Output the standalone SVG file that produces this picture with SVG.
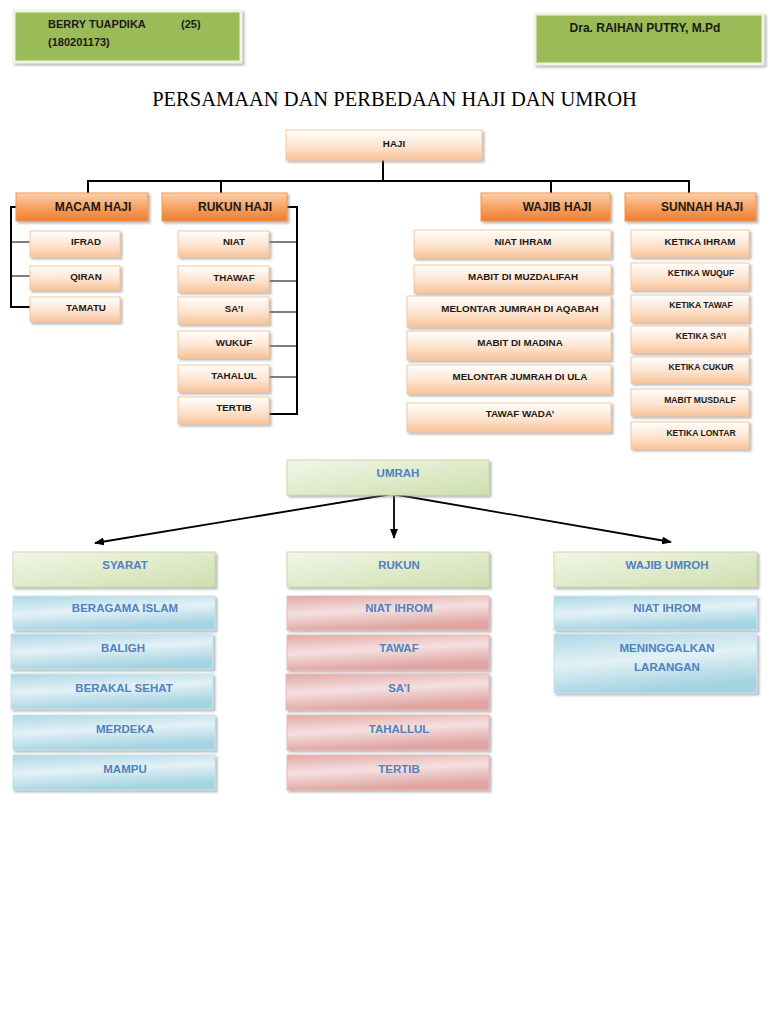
<svg xmlns="http://www.w3.org/2000/svg" width="768" height="1024" viewBox="0 0 768 1024">
<defs>
<style>
text{font-family:"Liberation Sans",Arial,sans-serif;font-weight:bold;text-anchor:middle;}
.hd{font-size:11px;fill:#1a1a1a;text-anchor:start;}
.hd2{font-size:12px;fill:#1a1a1a;}
.title{font-family:"Liberation Serif","Times New Roman",serif;font-weight:normal;font-size:20.5px;fill:#000;}
.l1{font-size:12px;fill:#1a1a1a;}
.t{font-size:9.8px;fill:#1a1a1a;}
.ts{font-size:8.6px;fill:#1a1a1a;}
.u{font-size:11.5px;fill:#4F81BD;}
.hdr{fill:#9BBB59;stroke:#EEF3E2;stroke-width:3;filter:url(#sh);}
.or{fill:url(#gOr);stroke:#F79646;stroke-width:1;filter:url(#sh);}
.pc{fill:url(#gPc);stroke:#F9C69C;stroke-width:1;filter:url(#sh);}
.gr{fill:url(#gGr);stroke:#C9DAA6;stroke-width:1;filter:url(#sh);}
.bl{fill:url(#gBl);stroke:#C6E4EE;stroke-width:1;filter:url(#sh);}
.rd{fill:url(#gRd);stroke:#E6B9B8;stroke-width:1;filter:url(#sh);}
.ln{fill:none;stroke:#000;stroke-width:2;}
.lt{fill:none;stroke:#000;stroke-width:1.2;}
.ar{fill:none;stroke:#000;stroke-width:1.8;marker-end:url(#ah);}
</style>
<filter id="sh" x="-10%" y="-20%" width="130%" height="160%">
<feDropShadow dx="2" dy="2" stdDeviation="0.8" flood-color="#7f7f7f" flood-opacity="0.55"/>
</filter>
<linearGradient id="gOr" x1="0" y1="0" x2="0" y2="1">
<stop offset="0" stop-color="#FCD3AE"/><stop offset="0.5" stop-color="#F8A263"/><stop offset="1" stop-color="#EC7E32"/>
</linearGradient>
<linearGradient id="gPc" x1="0" y1="0" x2="0" y2="1">
<stop offset="0" stop-color="#FFFFFF"/><stop offset="0.55" stop-color="#FDE4CF"/><stop offset="1" stop-color="#F8C399"/>
</linearGradient>
<linearGradient id="gGr" x1="0" y1="0" x2="1" y2="1">
<stop offset="0" stop-color="#F1F6E8"/><stop offset="1" stop-color="#CEDFAE"/>
</linearGradient>
<linearGradient id="gBl" x1="0" y1="0" x2="0.3" y2="1">
<stop offset="0" stop-color="#ADD8E5"/><stop offset="0.5" stop-color="#E3F1F6"/><stop offset="1" stop-color="#A4D3E1"/>
</linearGradient>
<linearGradient id="gRd" x1="0" y1="0" x2="0.3" y2="1">
<stop offset="0" stop-color="#E3A9A7"/><stop offset="0.5" stop-color="#F4E0DF"/><stop offset="1" stop-color="#DFA3A1"/>
</linearGradient>
<marker id="ah" viewBox="0 0 10 8" refX="9" refY="4" markerUnits="userSpaceOnUse" markerWidth="10" markerHeight="8" orient="auto">
<path d="M0 0 L10 4 L0 8 Z" fill="#000"/>
</marker>
</defs>
<rect width="768" height="1024" fill="#fff"/>

<g id="header-left"><rect class="hdr" x="14" y="11" width="227" height="51"/>
<text class="hd" x="48" y="28">BERRY TUAPDIKA</text><text class="hd" x="181" y="28">(25)</text><text class="hd" x="48" y="46">(180201173)</text></g>
<g id="header-right"><rect class="hdr" x="535" y="14" width="228" height="50"/>
<text class="hd2" x="645" y="32">Dra. RAIHAN PUTRY, M.Pd</text></g>

<text class="title" x="394.5" y="106">PERSAMAAN DAN PERBEDAAN HAJI DAN UMROH</text>

<g id="connectors">
<path class="ln" d="M383 160 V181 M87 181 H690 M88 181 V193 M221 181 V193 M551 181 V193 M689 181 V193"/>
<path class="ln" d="M16 207 H11 V307 H30"/>
<path class="lt" d="M11 242 H30 M11 276 H30"/>
<path class="ln" d="M287 207 H297 V414 H269"/>
<path class="lt" d="M269 242 H297 M269 281 H297 M269 312 H297 M269 346 H297 M269 377 H297"/>
<path class="ar" d="M392 494 L95 543"/>
<path class="ar" d="M394 494 V538"/>
<path class="ar" d="M392 494 L671 542"/>
</g>

<g id="haji"><rect class="pc" x="286" y="130" width="196" height="30"/><text class="t" x="394" y="147">HAJI</text></g>

<g id="macam-haji"><rect class="or" x="16" y="193" width="132" height="28"/><text class="l1" x="93" y="211">MACAM HAJI</text></g>
<g id="rukun-haji"><rect class="or" x="162" y="193" width="125" height="28"/><text class="l1" x="235" y="211">RUKUN HAJI</text></g>
<g id="wajib-haji"><rect class="or" x="481" y="193" width="129" height="28"/><text class="l1" x="557" y="211">WAJIB HAJI</text></g>
<g id="sunnah-haji"><rect class="or" x="625" y="193" width="131" height="28"/><text class="l1" x="702" y="211">SUNNAH HAJI</text></g>

<g id="ifrad"><rect class="pc" x="30" y="231" width="90" height="26"/><text class="t" x="86" y="245">IFRAD</text></g>
<g id="qiran"><rect class="pc" x="30" y="266" width="90" height="24"/><text class="t" x="86" y="280">QIRAN</text></g>
<g id="tamatu"><rect class="pc" x="30" y="297" width="90" height="25"/><text class="t" x="86" y="311">TAMATU</text></g>

<g id="niat"><rect class="pc" x="178" y="231" width="91" height="26"/><text class="t" x="234" y="245">NIAT</text></g>
<g id="thawaf"><rect class="pc" x="178" y="266" width="91" height="26"/><text class="t" x="234" y="281">THAWAF</text></g>
<g id="sai"><rect class="pc" x="178" y="297" width="91" height="27"/><text class="t" x="234" y="312">SA’I</text></g>
<g id="wukuf"><rect class="pc" x="178" y="331" width="91" height="27"/><text class="t" x="234" y="346">WUKUF</text></g>
<g id="tahalul"><rect class="pc" x="178" y="365" width="91" height="27"/><text class="t" x="234" y="379">TAHALUL</text></g>
<g id="tertib"><rect class="pc" x="178" y="397" width="91" height="27"/><text class="t" x="234" y="411">TERTIB</text></g>

<g id="niat-ihram"><rect class="pc" x="414" y="230" width="197" height="28"/><text class="t" x="523" y="245">NIAT IHRAM</text></g>
<g id="mabit-muzdalifah"><rect class="pc" x="414" y="265" width="197" height="28"/><text class="t" x="523" y="280">MABIT DI MUZDALIFAH</text></g>
<g id="melontar-aqabah"><rect class="pc" x="407" y="296" width="204" height="31"/><text class="t" x="520" y="312">MELONTAR JUMRAH DI AQABAH</text></g>
<g id="mabit-madina"><rect class="pc" x="407" y="331" width="204" height="29"/><text class="t" x="520" y="346">MABIT DI MADINA</text></g>
<g id="melontar-ula"><rect class="pc" x="407" y="365" width="204" height="29"/><text class="t" x="520" y="380">MELONTAR JUMRAH DI ULA</text></g>
<g id="tawaf-wada"><rect class="pc" x="407" y="403" width="204" height="29"/><text class="t" x="520" y="417">TAWAF WADA’</text></g>

<g id="ketika-ihram"><rect class="pc" x="631" y="230" width="118" height="27"/><text class="t" x="700" y="245">KETIKA IHRAM</text></g>
<g id="ketika-wuquf"><rect class="pc" x="631" y="263" width="118" height="27"/><text class="ts" x="701" y="276">KETIKA WUQUF</text></g>
<g id="ketika-tawaf"><rect class="pc" x="631" y="295" width="118" height="27"/><text class="ts" x="701" y="308">KETIKA TAWAF</text></g>
<g id="ketika-sai"><rect class="pc" x="631" y="326" width="118" height="27"/><text class="ts" x="701" y="339">KETIKA SA’I</text></g>
<g id="ketika-cukur"><rect class="pc" x="631" y="357" width="118" height="26"/><text class="ts" x="701" y="370">KETIKA CUKUR</text></g>
<g id="mabit-musdalf"><rect class="pc" x="631" y="389" width="118" height="27"/><text class="ts" x="700" y="403">MABIT MUSDALF</text></g>
<g id="ketika-lontar"><rect class="pc" x="631" y="422" width="118" height="27"/><text class="ts" x="701" y="436">KETIKA LONTAR</text></g>

<g id="umrah"><rect class="gr" x="287" y="460" width="202" height="35"/><text class="u" x="398" y="477">UMRAH</text></g>

<g id="syarat"><rect class="gr" x="13" y="552" width="202" height="35"/><text class="u" x="125" y="569">SYARAT</text></g>
<g id="beragama-islam"><rect class="bl" x="13" y="596" width="202" height="34"/><text class="u" x="125" y="612">BERAGAMA ISLAM</text></g>
<g id="baligh"><rect class="bl" x="11" y="634" width="202" height="35"/><text class="u" x="123" y="652">BALIGH</text></g>
<g id="berakal-sehat"><rect class="bl" x="11" y="674" width="202" height="35"/><text class="u" x="124" y="692">BERAKAL SEHAT</text></g>
<g id="merdeka"><rect class="bl" x="13" y="715" width="202" height="35"/><text class="u" x="125" y="733">MERDEKA</text></g>
<g id="mampu"><rect class="bl" x="13" y="755" width="202" height="35"/><text class="u" x="125" y="773">MAMPU</text></g>

<g id="rukun"><rect class="gr" x="287" y="552" width="202" height="35"/><text class="u" x="399" y="569">RUKUN</text></g>
<g id="niat-ihrom-r"><rect class="rd" x="287" y="596" width="202" height="34"/><text class="u" x="399" y="612">NIAT IHROM</text></g>
<g id="tawaf-r"><rect class="rd" x="287" y="635" width="202" height="35"/><text class="u" x="399" y="652">TAWAF</text></g>
<g id="sai-r"><rect class="rd" x="286" y="674" width="203" height="36"/><text class="u" x="399" y="692">SA’I</text></g>
<g id="tahallul-r"><rect class="rd" x="287" y="715" width="202" height="35"/><text class="u" x="399" y="733">TAHALLUL</text></g>
<g id="tertib-r"><rect class="rd" x="287" y="755" width="202" height="35"/><text class="u" x="399" y="773">TERTIB</text></g>

<g id="wajib-umroh"><rect class="gr" x="554" y="552" width="203" height="35"/><text class="u" x="667" y="569">WAJIB UMROH</text></g>
<g id="niat-ihrom-w"><rect class="bl" x="554" y="596" width="203" height="34"/><text class="u" x="667" y="612">NIAT IHROM</text></g>
<g id="meninggalkan-larangan"><rect class="bl" x="554" y="634" width="203" height="59"/><text class="u" x="667" y="652">MENINGGALKAN</text><text class="u" x="667" y="671">LARANGAN</text></g>
</svg>
